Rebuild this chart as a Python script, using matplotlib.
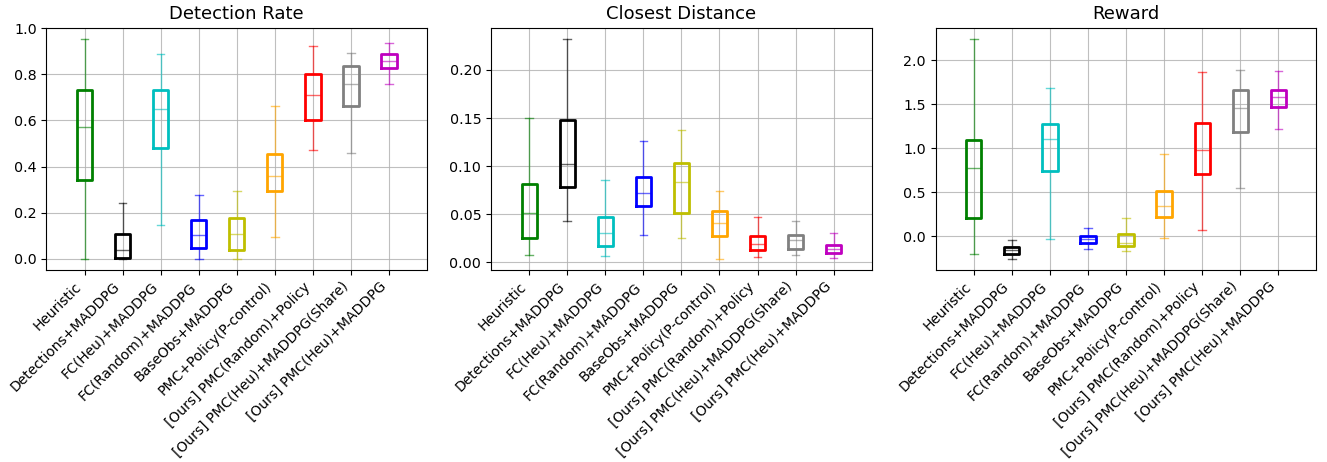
import matplotlib
matplotlib.use('Agg')
import matplotlib.pyplot as plt

# Métodos comparados
metodos = ['Heuristic', 'Detections+MADDPG', 'FC(Heu)+MADDPG', 'FC(Random)+MADDPG',
           'BaseObs+MADDPG', 'PMC+Policy(P-control)', '[Ours] PMC(Random)+Policy',
           '[Ours] PMC(Heu)+MADDPG(Share)', '[Ours] PMC(Heu)+MADDPG']
cores = ['g', 'k', 'c', 'b', 'y', 'orange', 'r', 'gray', 'm']

# Detection Rate: (whislo, q1, med, q3, whishi)
det_lo = [0.0, 0.0, 0.147, 0.0, 0.0, 0.095, 0.470, 0.459, 0.756]
det_q1 = [0.342, 0.004, 0.480, 0.049, 0.040, 0.294, 0.603, 0.662, 0.828]
det_med = [0.573, 0.039, 0.649, 0.104, 0.107, 0.361, 0.710, 0.759, 0.856]
det_q3 = [0.732, 0.107, 0.732, 0.170, 0.176, 0.456, 0.799, 0.834, 0.887]
det_hi = [0.954, 0.244, 0.887, 0.276, 0.296, 0.661, 0.921, 0.893, 0.934]

# Closest Distance
dist_lo = [0.0076, 0.0429, 0.0062, 0.0287, 0.0253, 0.0038, 0.0052, 0.0073, 0.0042]
dist_q1 = [0.0249, 0.0789, 0.0166, 0.0588, 0.0516, 0.0277, 0.0131, 0.0142, 0.0100]
dist_med = [0.0512, 0.1024, 0.0308, 0.0723, 0.0834, 0.0408, 0.0197, 0.0232, 0.0145]
dist_q3 = [0.0820, 0.1478, 0.0474, 0.0893, 0.1031, 0.0536, 0.0270, 0.0290, 0.0183]
dist_hi = [0.1500, 0.2325, 0.0858, 0.1263, 0.1377, 0.0744, 0.0471, 0.0429, 0.0301]

# Reward
rew_lo = [-0.208, -0.257, -0.030, -0.144, -0.163, -0.023, 0.072, 0.548, 1.221]
rew_q1 = [0.204, -0.197, 0.745, -0.076, -0.117, 0.219, 0.703, 1.180, 1.467]
rew_med = [0.775, -0.159, 1.104, -0.034, -0.080, 0.344, 0.979, 1.452, 1.580]
rew_q3 = [1.089, -0.121, 1.274, 0.0, 0.023, 0.510, 1.282, 1.660, 1.660]
rew_hi = [2.242, -0.038, 1.682, 0.091, 0.204, 0.938, 1.864, 1.883, 1.875]

paineis = [
    ('Detection Rate', det_lo, det_q1, det_med, det_q3, det_hi),
    ('Closest Distance', dist_lo, dist_q1, dist_med, dist_q3, dist_hi),
    ('Reward', rew_lo, rew_q1, rew_med, rew_q3, rew_hi),
]

fig, axes = plt.subplots(1, 3, figsize=(13.27, 4.62), dpi=100)
plt.subplots_adjust(left=0.035, right=0.992, top=0.94, bottom=0.416, wspace=0.168)

for ax, (titulo, lo, q1, med, q3, hi) in zip(axes, paineis):
    for i in range(len(metodos)):
        stats = [{'whislo': lo[i], 'q1': q1[i], 'med': med[i], 'q3': q3[i],
                  'whishi': hi[i], 'fliers': []}]
        c = cores[i]
        ax.bxp(stats, positions=[i + 1], widths=0.4, showfliers=False,
               boxprops=dict(color=c, linewidth=2.0),
               whiskerprops=dict(color=c, linewidth=1.0, alpha=0.6),
               capprops=dict(color=c, linewidth=1.0, alpha=0.6),
               medianprops=dict(color=c, linewidth=1.0, alpha=0.6))
    ax.set_xlim(0, len(metodos) + 1)
    ax.set_xticks(range(1, len(metodos) + 1))
    ax.set_xticklabels(metodos, rotation=45, ha='right', fontsize=10)
    ax.tick_params(axis='y', labelsize=10.3)
    ax.grid(True, color='#b0b0b0', alpha=0.8)
    ax.set_axisbelow(True)
    ax.set_title(titulo, fontsize=13)

plt.savefig('out.png')
